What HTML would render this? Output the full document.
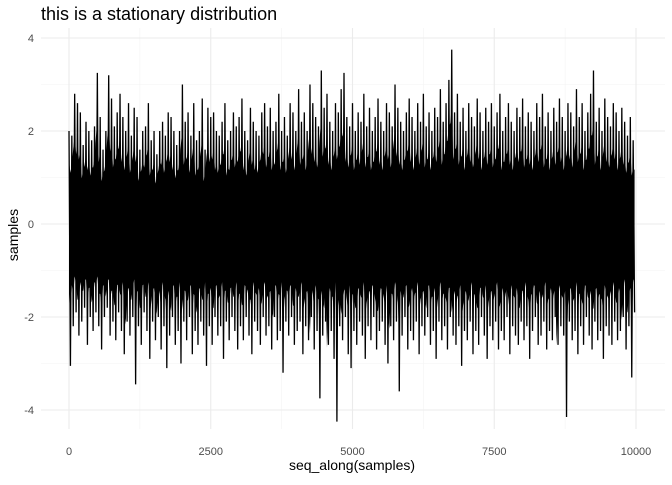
<!DOCTYPE html>
<html><head><meta charset="utf-8"><style>
body{margin:0;background:#fff}
svg text{font-family:"Liberation Sans",sans-serif}
</style></head><body>
<svg id="chart" width="672" height="480" viewBox="0 0 672 480">
<text x="41" y="20" font-size="18" fill="#000">this is a stationary distribution</text>
<g id="grid"></g>
<g id="axes"></g>
<g id="series"></g>
<text x="352" y="470" font-size="14" text-anchor="middle" fill="#000">seq_along(samples)</text>
<text transform="translate(18,235) rotate(-90)" font-size="14" text-anchor="middle" fill="#000">samples</text>
</svg>
<script>
const xTicks=[0,2500,5000,7500,10000];
const xTickLabels=["0","2500","5000","7500","10000"];
const yTicks=[-4,-2,0,2,4];
const yTickLabels=["-4","-2","0","2","4"];
const samplesHigh=[2.0,1.9,2.8,2.6,2.4,1.7,2.2,2.0,1.8,2.1,3.25,2.3,1.6,2.0,3.2,2.7,2.1,2.4,2.8,2.3,2.0,2.6,1.9,2.5,2.3,1.6,2.0,2.1,2.6,1.8,2.0,1.5,2.0,2.2,1.9,2.4,2.3,2.0,1.7,2.0,3.0,2.2,2.4,1.9,2.6,1.8,2.0,2.7,1.6,2.5,2.3,2.4,2.0,1.9,2.2,2.6,1.8,2.0,2.4,2.1,2.3,2.7,2.0,1.8,2.5,2.2,2.0,1.9,2.4,2.6,2.1,2.5,2.0,2.2,2.8,2.0,2.3,1.9,2.6,2.4,2.0,2.9,2.2,2.4,2.0,3.0,2.6,2.3,2.1,3.3,2.5,2.8,2.2,2.0,2.6,2.4,2.9,3.25,2.3,2.1,2.6,2.0,2.4,2.2,2.8,2.1,2.5,2.0,2.3,2.7,2.2,2.0,2.6,2.4,2.1,3.0,2.5,2.2,2.0,2.4,2.7,2.3,2.0,2.6,2.2,2.8,2.1,2.4,2.0,2.5,2.3,2.9,2.2,2.6,3.1,3.75,2.4,2.8,2.2,2.5,2.0,2.6,2.3,2.1,2.7,2.4,2.0,2.5,2.2,2.6,2.1,2.4,2.8,2.0,2.3,2.6,2.2,2.0,2.5,2.3,2.7,2.1,2.4,2.2,2.0,2.6,2.3,2.8,2.1,2.4,2.0,2.5,2.2,2.7,2.3,2.0,2.6,2.4,2.1,2.9,2.3,2.6,2.0,2.4,2.8,3.3,2.2,2.5,2.0,2.7,2.3,2.1,2.6,2.4,2.0,2.5,2.2,1.9,2.3,1.8];
const samplesLow=[-3.05,-2.2,-1.9,-2.4,-2.1,-1.8,-2.6,-2.0,-2.3,-1.9,-2.2,-2.7,-2.0,-1.8,-2.4,-2.1,-2.5,-1.9,-2.3,-2.8,-2.1,-2.4,-2.0,-3.45,-2.2,-2.6,-1.9,-2.3,-2.9,-2.1,-2.5,-2.0,-2.7,-2.2,-3.1,-2.4,-2.0,-2.6,-2.3,-3.0,-2.1,-2.5,-2.0,-2.8,-2.3,-2.6,-2.1,-2.4,-3.05,-2.2,-2.6,-2.0,-2.4,-2.2,-2.9,-2.1,-2.5,-2.0,-2.3,-2.7,-2.2,-2.5,-2.0,-2.4,-2.8,-2.1,-2.3,-2.6,-2.0,-2.4,-2.2,-2.7,-2.0,-2.5,-2.3,-3.2,-2.1,-2.4,-2.0,-2.6,-2.3,-2.1,-2.8,-2.2,-2.5,-2.0,-2.7,-2.3,-3.75,-2.4,-2.1,-2.6,-2.3,-2.9,-4.25,-2.2,-2.5,-2.0,-2.8,-3.1,-2.3,-2.6,-2.1,-2.4,-2.9,-2.2,-2.5,-2.0,-2.7,-2.3,-2.1,-2.6,-3.0,-2.2,-2.5,-2.1,-3.6,-2.4,-2.0,-2.7,-2.3,-2.5,-2.1,-2.8,-2.2,-2.4,-2.0,-2.6,-2.3,-2.9,-2.1,-2.5,-2.2,-2.7,-2.0,-2.4,-2.6,-2.2,-3.05,-2.3,-2.5,-2.1,-2.8,-2.3,-2.6,-2.0,-2.4,-2.9,-2.2,-2.5,-2.1,-2.7,-2.3,-2.5,-2.0,-2.8,-2.2,-2.4,-2.6,-2.1,-2.5,-2.2,-2.9,-2.3,-2.0,-2.6,-2.4,-2.1,-2.7,-2.3,-2.5,-2.0,-2.6,-2.2,-2.4,-4.15,-2.1,-2.5,-2.3,-2.8,-2.2,-2.6,-2.0,-2.4,-2.7,-2.1,-2.5,-2.3,-2.9,-2.2,-2.4,-2.6,-2.1,-2.5,-2.3,-2.0,-2.7,-2.2,-3.3,-1.9];
const xMin=0,xMax=10000,yMin=-4,yMax=4;
const coreShare=0.68;
const sx=v=>69+(v-xMin)/(xMax-xMin)*567;
const sy=v=>410-(v-yMin)/(yMax-yMin)*372;
const NS="http://www.w3.org/2000/svg";
function mk(t,a,p){const e=document.createElementNS(NS,t);for(const k in a)e.setAttribute(k,a[k]);p.appendChild(e);return e;}
const grid=document.getElementById('grid'),axes=document.getElementById('axes'),series=document.getElementById('series');
for(let i=0;i<yTicks.length-1;i++){const v=(yTicks[i]+yTicks[i+1])/2;
 const l=mk('line',{x1:41,x2:665,y1:sy(v),y2:sy(v),stroke:'#f4f4f4','stroke-width':0.6},grid);
 }
for(let i=0;i<xTicks.length-1;i++){const v=(xTicks[i]+xTicks[i+1])/2;
 const l=mk('line',{x1:sx(v),x2:sx(v),y1:28,y2:429,stroke:'#f4f4f4','stroke-width':0.6},grid);
 }
yTicks.forEach((v,i)=>{const l=mk('line',{x1:41,x2:665,y1:sy(v),y2:sy(v),stroke:'#ebebeb','stroke-width':1.1},grid);
 
 const t=mk('text',{x:34,y:sy(v)+4,'font-size':11,'text-anchor':'end',fill:'#4d4d4d'},axes);t.textContent=yTickLabels[i];
 });
xTicks.forEach((v,i)=>{const l=mk('line',{x1:sx(v),x2:sx(v),y1:28,y2:429,stroke:'#ebebeb','stroke-width':1.1},grid);
 
 const t=mk('text',{x:sx(v),y:455,'font-size':11,'text-anchor':'middle',fill:'#4d4d4d'},axes);t.textContent=xTickLabels[i];
 });
const n=samplesHigh.length;const pts=[];const coreTop=[];const coreBot=[];
for(let k=0;k<n;k++){
 const xa=xMin+(k/n)*(xMax-xMin), xb=xMin+((k+0.5)/n)*(xMax-xMin);
 pts.push(sx(xa).toFixed(2)+','+sy(samplesHigh[k]).toFixed(2));
 pts.push(sx(xb).toFixed(2)+','+sy(samplesLow[k]).toFixed(2));
 coreTop.push(sx(xa).toFixed(2)+','+sy(samplesHigh[k]*coreShare).toFixed(2));
 coreTop.push(sx(xb).toFixed(2)+','+sy(samplesHigh[(k+1)%n]*coreShare*0.85).toFixed(2));
 coreBot.unshift(sx(xa).toFixed(2)+','+sy(samplesLow[(k+3)%n]*coreShare*0.92).toFixed(2));
 coreBot.unshift(sx(xb).toFixed(2)+','+sy(samplesLow[k]*coreShare).toFixed(2));
}
const core=mk('polygon',{points:coreTop.concat(coreBot).join(' '),fill:'#000'},series);


const pl=mk('polyline',{points:pts.join(' '),fill:'none',stroke:'#000','stroke-width':1.3,'stroke-linejoin':'miter'},series);


</script>
</body></html>
